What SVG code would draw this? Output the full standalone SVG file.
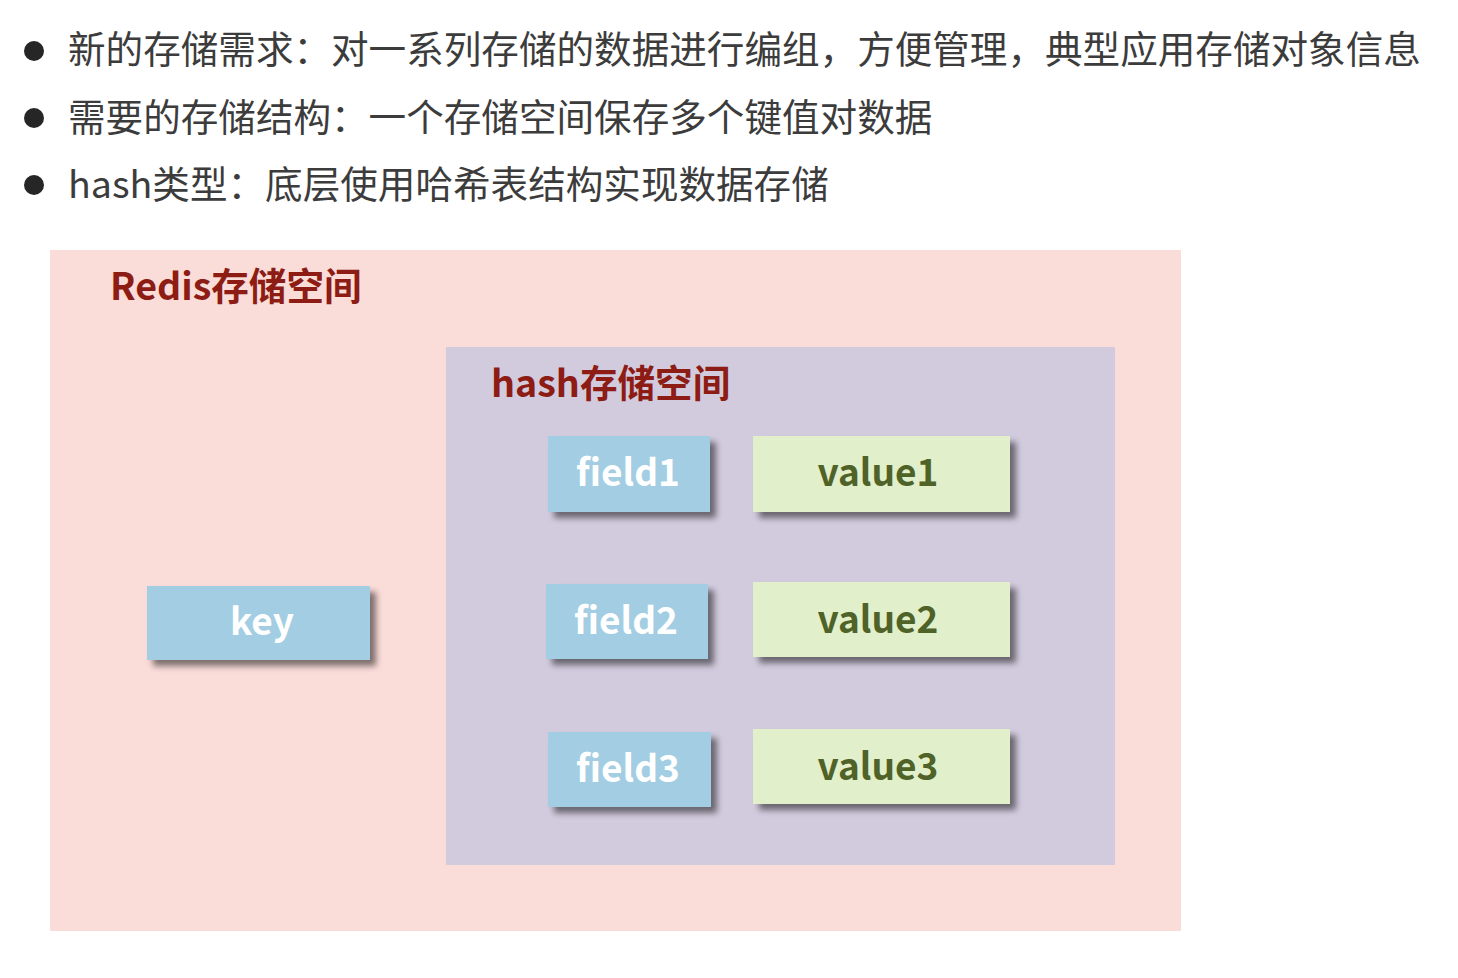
<svg xmlns="http://www.w3.org/2000/svg" width="1458" height="978" viewBox="0 0 1458 978">
<defs>
<style>
.bullet{font-family:"Noto Sans CJK SC","Microsoft YaHei",sans-serif;font-size:37.6px;fill:#3c3c3c}
.title{font-family:"Noto Sans CJK SC",sans-serif;font-size:37.6px;font-weight:bold;fill:#8c1c14}
.blue{fill:#a3cde2}
.green{fill:#e2efcb}
.lbl{font-family:"Noto Sans CJK SC",sans-serif;font-size:37px;font-weight:bold;text-anchor:middle}
.w{fill:#ffffff}
.g{fill:#4f6228}
</style>
<filter id="sh" x="-20%" y="-30%" width="150%" height="180%">
<feGaussianBlur in="SourceAlpha" stdDeviation="3"/>
<feOffset dx="6" dy="6" result="b"/>
<feComponentTransfer><feFuncA type="linear" slope="0.5"/></feComponentTransfer>
<feMerge><feMergeNode/><feMergeNode in="SourceGraphic"/></feMerge>
</filter>
</defs>
<rect width="1458" height="978" fill="#ffffff"/>
<g id="bullets">
<circle cx="34" cy="51" r="10" fill="#262626"/>
<circle cx="34" cy="118" r="10" fill="#262626"/>
<circle cx="34" cy="185" r="10" fill="#262626"/>
<text class="bullet" x="68" y="63">新的存储需求：对一系列存储的数据进行编组，方便管理，典型应用存储对象信息</text>
<text class="bullet" x="68" y="131">需要的存储结构：一个存储空间保存多个键值对数据</text>
<text class="bullet" x="68" y="198">hash类型：底层使用哈希表结构实现数据存储</text>
</g>
<g id="redis-space">
<rect x="50" y="250" width="1131" height="681" fill="#fadcd9"/>
<text class="title" x="110" y="300">Redis存储空间</text>
</g>
<g id="hash-space">
<rect x="446" y="347" width="669" height="518" fill="#d2cbde"/>
<text class="title" x="491" y="397">hash存储空间</text>
</g>
<g id="connectors"></g>
<g id="key">
<rect class="blue" x="147" y="586" width="223" height="74" filter="url(#sh)"/>
<text class="lbl w" x="262" y="635">key</text>
</g>
<g id="field1">
<rect class="blue" x="548" y="436" width="162" height="76" filter="url(#sh)"/>
<text class="lbl w" x="628" y="486">field1</text>
</g>
<g id="field2">
<rect class="blue" x="546" y="584" width="162" height="75" filter="url(#sh)"/>
<text class="lbl w" x="626" y="634">field2</text>
</g>
<g id="field3">
<rect class="blue" x="548" y="732" width="163" height="75" filter="url(#sh)"/>
<text class="lbl w" x="628" y="782">field3</text>
</g>
<g id="value1">
<rect class="green" x="753" y="436" width="257" height="76" filter="url(#sh)"/>
<text class="lbl g" x="878" y="486">value1</text>
</g>
<g id="value2">
<rect class="green" x="753" y="582" width="257" height="75" filter="url(#sh)"/>
<text class="lbl g" x="878" y="633">value2</text>
</g>
<g id="value3">
<rect class="green" x="753" y="729" width="257" height="75" filter="url(#sh)"/>
<text class="lbl g" x="878" y="780">value3</text>
</g>
</svg>
